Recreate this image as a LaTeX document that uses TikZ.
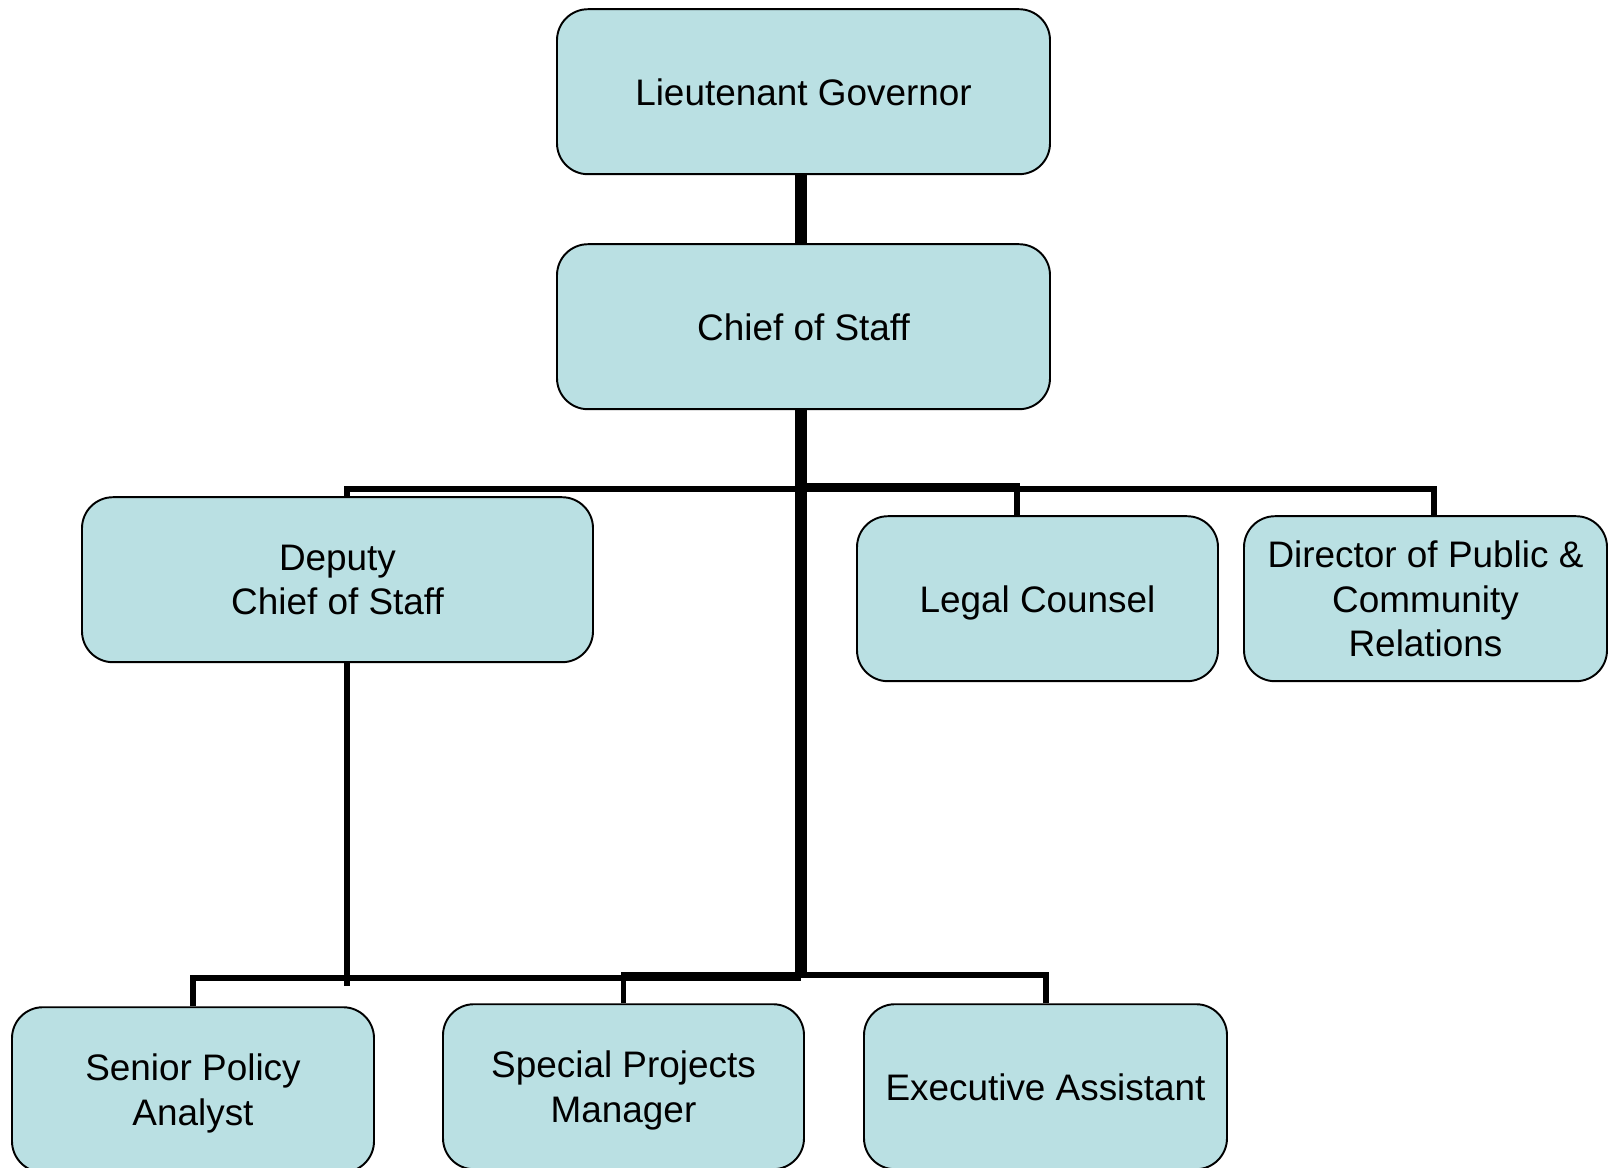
\documentclass[tikz,border=0pt]{standalone}
\usepackage{fontspec}
\setmainfont{Liberation Sans}
\definecolor{boxblue}{RGB}{186,224,227}
\begin{document}
\begin{tikzpicture}[node distance=4.7cm, every node/.style={align=center}]
        \tikzstyle{block}=[rectangle, draw, line width=1.1pt, rounded corners=0.62cm, align=center, fill=boxblue, inner sep=2pt, minimum height=3.3cm, text depth=-0.12cm, font=\fontsize{21}{25.5}\selectfont];
        \tikzstyle{edge}=[line width=3.4pt];
        \tikzstyle{trunk}=[line width=6.5pt];
        \useasboundingbox (0,0) rectangle (32.3,-23.34);
        \node[block, minimum width=9.86cm] at (16.07,-1.834) (lg) {Lieutenant Governor};
        \node[block, minimum width=9.86cm, below of=lg] (cos) {Chief of Staff};
        \node[block, minimum width=10.22cm, below of=cos, xshift=-9.32cm, yshift=-0.36cm, text depth=-0.2cm] (deputy) {Deputy\\Chief of Staff};
        \node[block, minimum width=7.22cm, below of=cos, xshift=4.68cm, yshift=-0.74cm, text depth=-0.2cm] (legal) {Legal Counsel};
        \node[block, minimum width=7.26cm, right of=legal, xshift=3.06cm] (director) {Director of Public \&\\Community\\Relations};
        \node[block, minimum width=7.24cm, below of=deputy, xshift=-2.89cm, yshift=-5.5cm, text depth=-0.04cm] (senior) {Senior Policy\\Analyst};
        \node[block, minimum width=7.22cm, right of=senior, xshift=3.91cm, yshift=0.06cm, text depth=0cm] (special) {Special Projects\\Manager};
        \node[block, minimum width=7.26cm, right of=special, xshift=3.74cm, text depth=-0.04cm] (exec) {Executive Assistant};
        % junction points of the bars
        \coordinate (top) at (16.02,-9.78);
        \coordinate (low) at (16.02,-19.56);
        \coordinate (depx) at (6.94,-19.72);
        \coordinate (legx) at (20.34,-9.7);
        \coordinate (dirx) at (28.68,-9.78);
        \draw[trunk] (lg.south -| top) -- (cos.north -| top);
        \draw[trunk] (cos.south -| top) -- (top |- 0,-19.46);
        \draw[edge] (deputy.north -| depx) |- (top) -| (director.north -| dirx);
        \draw[edge] (legal.north -| legx) |- ([yshift=0.06cm]top);
        \draw[edge] (deputy.south -| depx) -- (depx);
        \draw[edge] (senior.north) |- (low);
        \draw[edge] (special.north) |- ([yshift=0.06cm]low);
        \draw[edge] (exec.north) |- ([yshift=0.06cm]low);
    \end{tikzpicture}
\end{document}
